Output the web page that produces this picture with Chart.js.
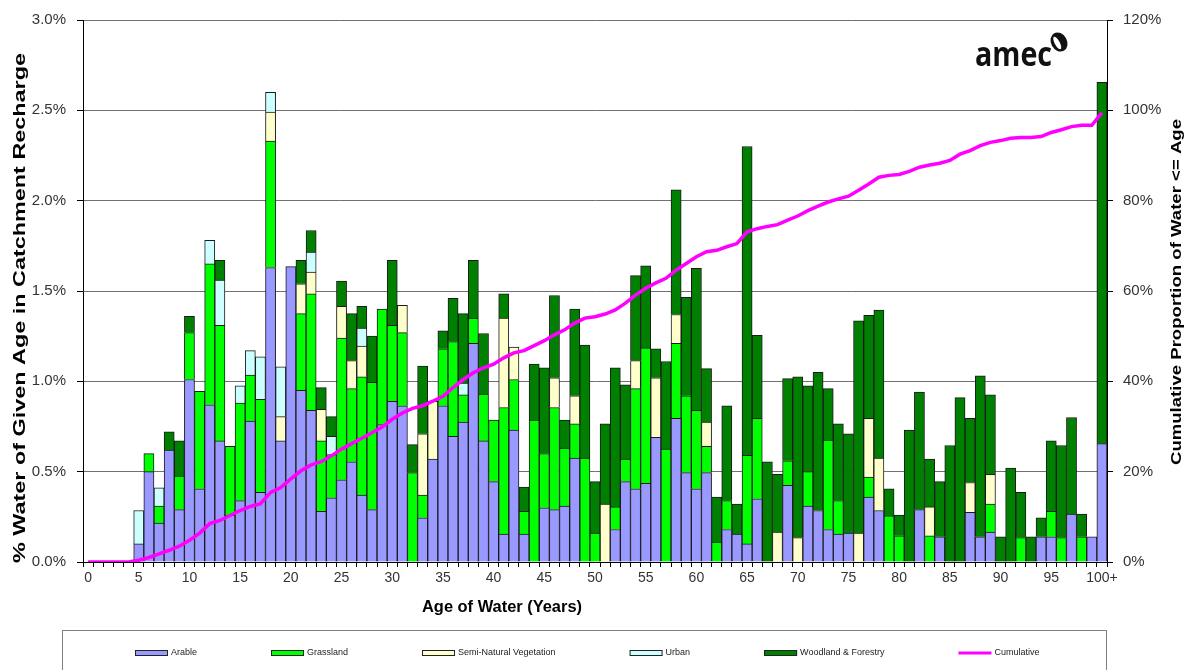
<!DOCTYPE html>
<html>
<head>
<meta charset="utf-8">
<title>Age of Water in Catchment Recharge</title>
<script src="https://cdn.jsdelivr.net/npm/chart.js@4/dist/chart.umd.min.js"></script>
<style>
body{margin:0;background:#fff;}
canvas{display:block;}
</style>
</head>
<body>
<canvas id="ageChart" width="1187" height="670"></canvas>
<script>

// ages 0..99 and the open-ended last class
const ageLabels = [];
for(let i = 0; i < 100; i++){ ageLabels.push(String(i)); }
ageLabels.push("100+");

// % of recharge water of each age, split by land use
const arable = [
0,0,0,0,0,0.10,0.50,0.215,0.62,0.29,
1.01,0.405,0.87,0.67,0.26,0.34,0.78,0.385,1.63,0.67,
1.635,0.95,0.84,0.28,0.355,0.455,0.555,0.37,0.29,0.76,
0.89,0.865,0,0.245,0.57,0.865,0.695,0.775,1.21,0.67,
0.445,0.155,0.73,0.155,0,0.30,0.29,0.31,0.575,0,
0,0,0.18,0.445,0.405,0.435,0.69,0,0.795,0.495,
0.405,0.495,0,0.18,0.155,0.10,0.35,0,0,0.425,
0,0.31,0.285,0.18,0.155,0.16,0,0.36,0.285,0,
0,0,0.29,0,0.14,0,0,0.275,0.14,0.165,
0,0,0,0,0.14,0.14,0,0.265,0,0.14,
0.655
];

const grassland = [
0,0,0,0,0,0,0.10,0.095,0,0.185,
0.26,0.54,0.78,0.64,0.38,0.54,0.255,0.515,0.70,0,
0,0.425,0.645,0.39,0.24,0.785,0.405,0.655,0.705,0.64,
0.42,0.405,0.495,0.125,0,0.315,0.525,0.15,0.14,0.26,
0.34,0.70,0.28,0.125,0.785,0.30,0.565,0.32,0.19,0.575,
0.16,0,0.125,0.125,0.555,0.75,0,0.625,0.415,0.425,
0.435,0.145,0.11,0.16,0,0.49,0.445,0,0,0.135,
0,0.19,0,0.495,0.185,0,0,0.11,0,0.255,
0.145,0,0,0.145,0,0,0,0,0,0.155,
0,0,0.135,0,0,0.14,0.135,0,0.14,0,
0
];

const semiNatural = [
0,0,0,0,0,0,0,0,0,0,
0,0,0,0,0,0,0,0,0.16,0.135,
0,0.165,0.12,0.175,0,0.175,0.155,0.17,0,0,
0,0.15,0,0.34,0.32,0,0,0,0,0,
0,0.495,0.18,0,0,0,0.165,0,0.155,0,
0,0.32,0,0,0.155,0,0.33,0,0.16,0,
0,0.135,0,0,0,0,0,0,0.165,0,
0.135,0,0,0,0,0,0.16,0.325,0.29,0,
0,0,0,0.16,0,0,0,0.165,0,0.165,
0,0,0,0,0,0,0,0,0,0,
0
];

const urban = [
0,0,0,0,0,0.185,0,0.10,0,0,
0,0,0.13,0.25,0,0.095,0.135,0.235,0.11,0.275,
0,0,0.11,0,0.10,0,0,0.10,0,0,
0,0,0,0,0,0,0,0.065,0,0,
0,0,0,0,0,0,0,0,0,0,
0,0,0,0,0,0,0,0,0,0,
0,0,0,0,0,0,0,0,0,0,
0,0,0,0,0,0,0,0,0,0,
0,0,0,0,0,0,0,0,0,0,
0,0,0,0,0,0,0,0,0,0,
0
];

const woodland = [
0,0,0,0,0,0,0,0,0.10,0.195,
0.09,0,0,0.11,0,0,0,0,0,0,
0,0.13,0.12,0.12,0.11,0.14,0.26,0.12,0.255,0,
0.36,0,0.155,0.375,0,0.10,0.24,0.385,0.32,0.335,
0,0.135,0,0.135,0.31,0.475,0.455,0.155,0.48,0.625,
0.285,0.445,0.77,0.41,0.47,0.455,0.16,0.485,0.69,0.545,
0.785,0.295,0.25,0.525,0.165,1.71,0.46,0.555,0.32,0.455,
0.89,0.475,0.765,0.285,0.425,0.55,1.175,0.57,0.82,0.15,
0.115,0.73,0.65,0.265,0.305,0.645,0.91,0.355,0.89,0.44,
0.14,0.52,0.25,0.14,0.105,0.39,0.51,0.535,0.125,0,
2.0
];

// cumulative proportion of water <= age (right axis, %)
const cumulative = [
0,0,0,0,0,0.4,1.0,1.8,2.6,3.5,
4.8,6.4,8.5,9.2,10.3,11.4,12.3,12.9,15.4,16.5,
18.4,20.2,21.5,22.2,23.5,25.0,26.2,27.4,28.6,29.9,
31.6,33.0,34.0,34.6,35.6,36.7,38.6,40.4,41.9,43.0,
43.8,45.2,46.3,46.8,47.9,49.0,50.3,51.4,52.9,54.0,
54.3,54.9,55.8,57.3,59.1,60.6,61.8,62.8,64.6,66.1,
67.6,68.7,69.0,69.8,70.5,73.1,73.8,74.3,74.7,75.7,
76.6,77.8,78.8,79.7,80.4,81.0,82.3,83.7,85.2,85.6,
85.8,86.5,87.4,87.9,88.3,88.9,90.3,91.1,92.2,92.9,
93.3,93.8,94.0,94.0,94.2,95.1,95.7,96.4,96.7,96.7,
99.5
];

const leftTitle = "% Water of Given Age in Catchment Recharge";
const rightTitle = "Cumulative Proportion of Water <= Age";
const bottomTitle = "Age of Water (Years)";

const FONT = '"Liberation Sans", Arial, sans-serif';


function barSet(label, data, colour){

return {
type:"bar",
label:label,
data:data,
backgroundColor:colour,
borderColor:"#1a1a1a",
borderWidth:1,
barPercentage:1,
categoryPercentage:1,
yAxisID:"y",
order:1
};

}


// text stretched along its own length (axis titles)
function stretchedText(c, text, x, y, angle, length){

c.save();
c.translate(x, y);
c.rotate(angle);
c.scale(length / c.measureText(text).width, 1);
c.fillText(text, 0, 0);
c.restore();

}


const axisTitles = {

id:"axisTitles",

afterDraw(chart){

const c = chart.ctx;

c.save();
c.fillStyle = "#000";
c.textAlign = "center";
c.textBaseline = "middle";

c.font = "bold 17px " + FONT;
stretchedText(c, leftTitle, 20, 308, -Math.PI / 2, 510);

c.font = "bold 15px " + FONT;
stretchedText(c, rightTitle, 1177, 292, -Math.PI / 2, 346);

c.font = "bold 16px " + FONT;
stretchedText(c, bottomTitle, 502, 608, 0, 160);

c.restore();

}

};


// boxed legend strip under the axis
const boxLegend = {

id:"boxLegend",

afterDraw(chart){

const c = chart.ctx;
const sets = chart.data.datasets;
const swatch = 33, gap = 3, spacing = 74, y = 653;

c.save();

c.strokeStyle = "#7f7f7f";
c.lineWidth = 1;
c.strokeRect(62.5, 630.5, 1044, 60);

c.font = "9px " + FONT;
c.textBaseline = "middle";

const widths = sets.map(d => swatch + gap + c.measureText(d.label).width);
const total = widths.reduce((a, b) => a + b, 0) + spacing * (sets.length - 1);

let x = Math.round(587 - total / 2);

sets.forEach((d, i) => {

if(d.type === "line"){

c.strokeStyle = d.borderColor;
c.lineWidth = 3;
c.beginPath();
c.moveTo(x, y);
c.lineTo(x + swatch, y);
c.stroke();

}
else{

c.fillStyle = d.backgroundColor;
c.fillRect(x, y - 3, swatch, 6);
c.strokeStyle = "#222";
c.lineWidth = 1;
c.strokeRect(x + 0.5, y - 2.5, swatch - 1, 5);

}

c.fillStyle = "#222";
c.fillText(d.label, x + swatch + gap, y);

x += widths[i] + spacing;

});

c.restore();

}

};


// company mark, top right of the plot
const logo = {

id:"logo",

afterDraw(chart){

const c = chart.ctx;

c.save();
c.font = 'bold 34px "Open Sans", ' + FONT;
const w = c.measureText("amec").width;
c.translate(975, 66);
c.scale(77 / w, 1);
c.fillStyle = "#111";
c.textBaseline = "alphabetic";
c.fillText("amec", 0, 0);
c.restore();

c.save();
c.translate(1059, 42);
c.rotate(-0.5);
c.beginPath();
c.ellipse(0, 0, 8, 10, 0, 0, Math.PI * 2);
c.fillStyle = "#111";
c.fill();
c.beginPath();
c.ellipse(-2, 0, 2.5, 7, 0, 0, Math.PI * 2);
c.fillStyle = "#fff";
c.fill();
c.restore();

}

};


const ctx = document.getElementById("ageChart");

const chart = new Chart(ctx,{

data:{

labels:ageLabels,

datasets:[

barSet("Arable", arable, "#9999FF"),
barSet("Grassland", grassland, "#00FF00"),
barSet("Semi-Natural Vegetation", semiNatural, "#FFFFCC"),
barSet("Urban", urban, "#CCFFFF"),
barSet("Woodland & Forestry", woodland, "#008000"),

{
type:"line",
label:"Cumulative",
data:cumulative,
borderColor:"#FF00FF",
backgroundColor:"#FF00FF",
borderWidth:3.5,
pointRadius:0,
tension:0,
yAxisID:"y1",
order:0
}

]

},

options:{

responsive:false,
animation:false,

layout:{
padding:{top:17, left:0, right:0, bottom:50}
},

plugins:{
legend:{display:false},
tooltip:{enabled:false}
},

scales:{

x:{
stacked:true,
grid:{
display:true,
drawOnChartArea:false,
offset:true,
tickLength:5,
color:"#000",
tickColor:"#000"
},
border:{color:"#000"},
ticks:{
autoSkip:false,
maxRotation:0,
minRotation:0,
padding:3,
color:"#333",
font:{family:FONT, size:14},
callback:function(v, i){
return i % 5 === 0 ? this.getLabelForValue(v) : "";
}
},
afterFit:s => { s.height = 58; }
},

y:{
stacked:true,
position:"left",
min:0,
max:3,
grid:{
color:"#707070",
tickColor:"#000",
tickLength:6
},
border:{color:"#000"},
ticks:{
stepSize:0.5,
padding:11,
color:"#333",
font:{family:FONT, size:15},
callback:v => v.toFixed(1) + "%"
},
afterFit:s => { s.width = 83; }
},

y1:{
position:"right",
min:0,
max:120,
grid:{
drawOnChartArea:false,
tickColor:"#000",
tickLength:6
},
border:{color:"#000"},
ticks:{
stepSize:20,
padding:10,
color:"#333",
font:{family:FONT, size:15},
callback:v => v + "%"
},
afterFit:s => { s.width = 80; }
}

}

},

plugins:[axisTitles, boxLegend, logo]

});

</script>
</body>
</html>
